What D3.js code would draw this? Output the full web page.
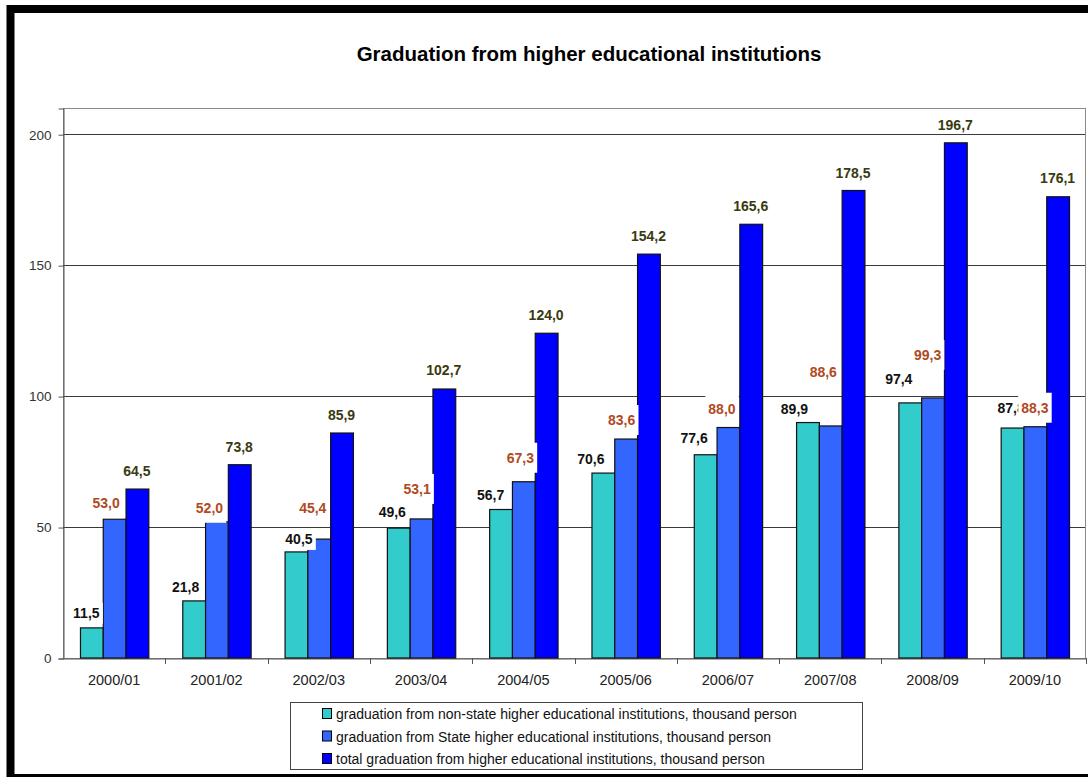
<!DOCTYPE html>
<html><head><meta charset="utf-8">
<script src="https://cdn.jsdelivr.net/npm/d3@7"></script>
<style>
html,body{margin:0;padding:0;background:#fff;}
svg{display:block;font-family:"Liberation Sans",Arial,sans-serif;}
</style></head>
<body>
<svg id="chart" width="1088" height="777"></svg>
<script>
// ---- data ----
const categories = ["2000/01","2001/02","2002/03","2003/04","2004/05","2005/06","2006/07","2007/08","2008/09","2009/10"];
const nonState = [11.5,21.8,40.5,49.6,56.7,70.6,77.6,89.9,97.4,87.8];
const stateVals = [53.0,52.0,45.4,53.1,67.3,83.6,88.0,88.6,99.3,88.3];
const totalVals = [64.5,73.8,85.9,102.7,124.0,154.2,165.6,178.5,196.7,176.1];
const nonStateText = ["11,5","21,8","40,5","49,6","56,7","70,6","77,6","89,9","97,4","87,8"];
const stateText = ["53,0","52,0","45,4","53,1","67,3","83,6","88,0","88,6","99,3","88,3"];
const totalText = ["64,5","73,8","85,9","102,7","124,0","154,2","165,6","178,5","196,7","176,1"];
const yTicks = [0,50,100,150,200];
const seriesNames = [
  "graduation from non-state higher educational institutions, thousand person",
  "graduation from State higher educational institutions, thousand person",
  "total graduation from higher educational institutions, thousand person"
];
// manual label nudges (as placed in the original): [dx from bar centre, lift above bar top]
const nudgeNonState = [[-5,10],[-8,9],[3,8],[-6,11],[-10,10],[-12,9],[-11,12],[-13,9],[-11,19],[-1,15]];
const nudgeState = [[-8,11],[-7,9],[-6,26],[-4,25],[-3,19],[-4,14],[-6,14],[-7,49],[-5,38],[0,14]];
const nudgeTotal = [[0,13],[0,13],[0,13],[0,14],[0,13],[0,13],[0,13],[0,13],[0,13],[0,14]];

(function(){
const colors = ["#33CCCC","#3366FF","#0000FF"];
const labelColors = ["#111111","#B04A22","#3A3A10"];
// white label box extents relative to text baseline: [above, below]
const boxExt = [[15,6],[20,10]];

const svg = d3.select("#chart");
const pL = 63, pR = 1086, pT = 108, pB = 658;

// outer black frame
svg.append("rect").attr("x",10.5).attr("y",9).attr("width",1090).attr("height",769)
  .attr("fill","#fff").attr("stroke","#000").attr("stroke-width",8);

// title
svg.append("text").attr("x",589).attr("y",61).attr("text-anchor","middle")
  .attr("font-size","20.5px").attr("font-weight","bold").attr("fill","#000")
  .text("Graduation from higher educational institutions");

const x0 = d3.scaleBand().domain(categories).range([pL,pR]).padding(0);
const keys = [0,1,2];
const x1 = d3.scaleBand().domain(keys).range([0,x0.bandwidth()]).paddingInner(0).paddingOuter(0.745);
const y = d3.scaleLinear().domain([0,210]).range([pB,pT]);

// plot frame
svg.append("rect").attr("x",pL+0.5).attr("y",pT+0.5).attr("width",pR-pL-1).attr("height",pB-pT)
  .attr("fill","none").attr("stroke","#8a8a8a").attr("stroke-width",1);

// gridlines
svg.append("g").selectAll("line").data(yTicks.filter(d=>d>0)).join("line")
  .attr("x1",pL).attr("x2",pR-1).attr("y1",d=>Math.round(y(d))+0.5).attr("y2",d=>Math.round(y(d))+0.5)
  .attr("stroke","#3a3a3a").attr("stroke-width",1);

// y axis
const yAxis = d3.axisLeft(y).tickValues(yTicks).tickSize(5).tickPadding(7).tickFormat(d3.format("d"));
const gy = svg.append("g").attr("transform",`translate(${pL+0.5},0.5)`).call(yAxis);
gy.select(".domain").attr("stroke","#555");
gy.selectAll(".tick line").attr("stroke","#555");
gy.selectAll(".tick text").attr("font-size","13.5px").attr("fill","#333").attr("font-family","Liberation Sans, Arial, sans-serif");

// x axis
const xAxis = d3.axisBottom(x0).tickSize(0).tickPadding(16);
const gx = svg.append("g").attr("transform",`translate(0,${pB+0.5})`).call(xAxis);
gx.select(".domain").attr("stroke","#555");
gx.selectAll(".tick text").attr("font-size","14.5px").attr("fill","#222").attr("font-family","Liberation Sans, Arial, sans-serif");
// category separator ticks
svg.append("g").selectAll("line").data(categories).join("line")
  .attr("x1",(d,i)=>Math.round(pL + (i+1)*x0.step())+0.5)
  .attr("x2",(d,i)=>Math.round(pL + (i+1)*x0.step())+0.5)
  .attr("y1",pB).attr("y2",pB+6).attr("stroke","#555");

// bars
const seriesVals = [nonState,stateVals,totalVals];
const groups = svg.append("g").selectAll("g").data(categories).join("g")
  .attr("transform",d=>`translate(${x0(d)},0)`);
groups.selectAll("rect").data((d,i)=>keys.map(k=>({k,v:seriesVals[k][i]}))).join("rect")
  .attr("x",d=>x1(d.k)+0.5).attr("width",x1.bandwidth())
  .attr("y",d=>y(d.v)).attr("height",d=>pB-y(d.v))
  .attr("fill",d=>colors[d.k]).attr("stroke","#111").attr("stroke-width",1.2);

// labels with white backgrounds
const labelSets = [[nonState,nonStateText,nudgeNonState],[stateVals,stateText,nudgeState],[totalVals,totalText,nudgeTotal]];
labelSets.forEach(([vals,txt,nudge],k)=>{
  const g = svg.append("g");
  categories.forEach((c,i)=>{
    const cx = x0(c)+x1(k)+x1.bandwidth()/2 + nudge[i][0];
    const by = y(vals[i]) - nudge[i][1];
    const lg = g.append("g");
    const t = lg.append("text").attr("x",cx).attr("y",by).attr("text-anchor","middle")
      .attr("font-size","14px").attr("font-weight","bold").attr("fill",labelColors[k]).text(txt[i]);
    const bb = t.node().getBBox();
    if (k<2) {
      lg.insert("rect","text").attr("x",bb.x-3).attr("y",by-boxExt[k][0])
        .attr("width",bb.width+6).attr("height",boxExt[k][0]+boxExt[k][1])
        .attr("fill","#fff");
    }
  });
});

// legend
const lgd = svg.append("g");
lgd.append("rect").attr("x",290.5).attr("y",702.5).attr("width",572).attr("height",67)
  .attr("fill","#fff").attr("stroke","#444").attr("stroke-width",1);
seriesNames.forEach((n,k)=>{
  const yy = 719 + k*22.5;
  lgd.append("rect").attr("x",322.5).attr("y",yy-10.5).attr("width",9).attr("height",10)
    .attr("fill",colors[k]).attr("stroke","#000").attr("stroke-width",1);
  lgd.append("text").attr("x",336).attr("y",yy).attr("font-size","14px").attr("fill","#111").text(n);
});
})();
</script>
</body></html>
